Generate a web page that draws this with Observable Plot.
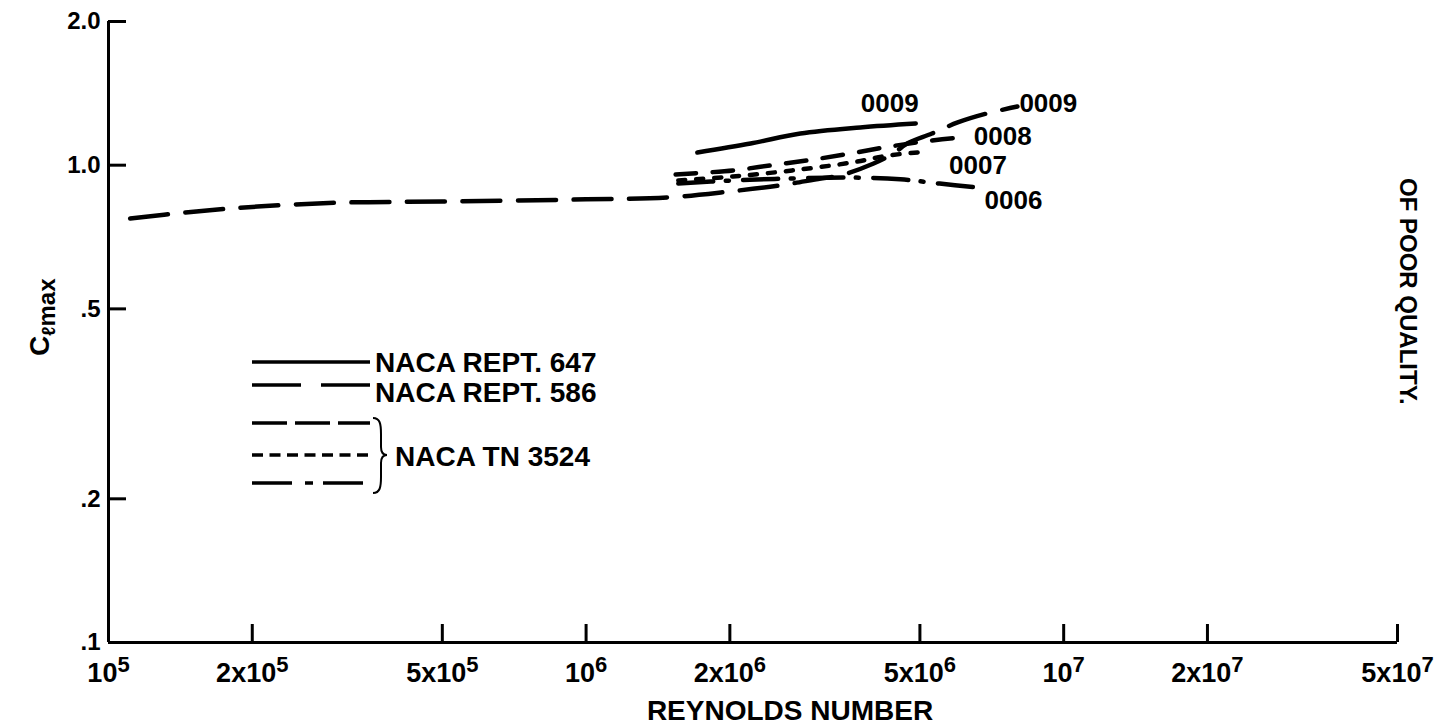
<!DOCTYPE html>
<html>
<head>
<meta charset="utf-8">
<script src="https://cdn.jsdelivr.net/npm/d3@7"></script>
<script src="https://cdn.jsdelivr.net/npm/@observablehq/plot@0.6"></script>
<style>
  html, body { margin: 0; padding: 0; background: #fff; }
  #chart svg text { font-family: "Liberation Sans", Arial, Helvetica, sans-serif; font-weight: bold; }
</style>
</head>
<body>
<div id="chart"></div>
<script>
// Axis ticks and their printed labels ("^" marks the exponent)
const xTicks = [1e5, 2e5, 5e5, 1e6, 2e6, 5e6, 1e7, 2e7, 5e7];
const xTickLabels = ["10^5", "2x10^5", "5x10^5", "10^6", "2x10^6", "5x10^6", "10^7", "2x10^7", "5x10^7"];
const yTicks = [0.1, 0.2, 0.5, 1, 2];
const yTickLabels = [".1", ".2", ".5", "1.0", "2.0"];

// NACA Rept. 647, NACA 0009
const rept647_0009_re = [1.71e6, 2.21e6, 2.81e6, 3.75e6, 4.9e6];
const rept647_0009_cl = [1.063, 1.11, 1.165, 1.20, 1.223];

// NACA Rept. 586, NACA 0009
const rept586_0009_re = [1.11e5, 1.45e5, 2.05e5, 3.1e5, 5.0e5, 1.0e6, 1.48e6, 2.0e6, 2.55e6, 3.1e6, 3.4e6, 4.0e6, 4.4e6, 4.7e6, 5.3e6, 6.0e6, 6.9e6, 8.0e6];
const rept586_0009_cl = [0.773, 0.796, 0.819, 0.835, 0.839, 0.848, 0.856, 0.881, 0.907, 0.938, 0.951, 1.008, 1.058, 1.11, 1.165, 1.229, 1.283, 1.327];

// NACA TN 3524, NACA 0008 / 0007 / 0006
const tn3524_0008_re = [1.54e6, 2.03e6, 2.43e6, 2.9e6, 3.48e6, 4.2e6, 5.1e6, 6.3e6];
const tn3524_0008_cl = [0.956, 0.975, 0.999, 1.023, 1.053, 1.089, 1.121, 1.148];
const tn3524_0007_re = [1.56e6, 2.03e6, 2.7e6, 3.6e6, 4.3e6, 5.2e6];
const tn3524_0007_cl = [0.929, 0.947, 0.975, 1.013, 1.048, 1.068];
const tn3524_0006_re = [1.56e6, 2.03e6, 2.7e6, 3.6e6, 4.55e6, 5.5e6, 6.6e6];
const tn3524_0006_cl = [0.915, 0.929, 0.938, 0.942, 0.934, 0.915, 0.898];

// Section names printed at the curve ends
const sectionNames = ["0009", "0009", "0008", "0007", "0006"];

// Line styles and where each end label sits relative to the last point
const series = [
  {re: rept647_0009_re, cl: rept647_0009_cl, dash: null, name: sectionNames[0], dx: -26, dy: -20, anchor: "middle"},
  {re: rept586_0009_re, cl: rept586_0009_cl, dash: "38,17.5", name: sectionNames[1], dx: 2, dy: -3, anchor: "start"},
  {re: tn3524_0008_re, cl: tn3524_0008_cl, dash: "20.5,16.5", name: sectionNames[2], dx: 6, dy: 0, anchor: "start"},
  {re: tn3524_0007_re, cl: tn3524_0007_cl, dash: "7,11", name: sectionNames[3], dx: 21, dy: 14, anchor: "start"},
  {re: tn3524_0006_re, cl: tn3524_0006_cl, dash: "35,12.5,3,14.5", name: sectionNames[4], dx: 7, dy: 13, anchor: "start"}
];

const lineMarks = [];
for (const s of series) {
  const rows = s.re.map((re, i) => ({re, cl: s.cl[i]}));
  lineMarks.push(Plot.line(rows, {
    x: "re", y: "cl", curve: "catmull-rom",
    stroke: "#000", strokeWidth: 4.5, strokeLinecap: "round",
    strokeDasharray: s.dash
  }));
  lineMarks.push(Plot.text([rows[rows.length - 1]], {
    x: "re", y: "cl", text: () => s.name,
    dx: s.dx, dy: s.dy, textAnchor: s.anchor,
    fontSize: 26, fontWeight: "bold", fill: "#000"
  }));
}

// Look a tick value up in a list, tolerant of rounding
const lookup = (ticks, labels) => d => {
  const i = ticks.findIndex(t => Math.abs(t - d) <= 1e-9 * t);
  return i < 0 ? "" : labels[i];
};

const chart = Plot.plot({
  width: 1442,
  height: 727,
  marginLeft: 108,
  marginRight: 45,
  marginTop: 21,
  marginBottom: 85,
  style: {background: "#fff", color: "#000", overflow: "visible"},
  x: {type: "log", domain: [1e5, 5e7], label: null},
  y: {type: "log", domain: [0.1, 2], label: null},
  marks: [
    Plot.axisX(xTicks, {
      tickSize: -18, tickPadding: 38, strokeWidth: 3,
      fontSize: 27, label: null,
      tickFormat: lookup(xTicks, xTickLabels)
    }),
    Plot.axisY(yTicks, {
      tickSize: -18, tickPadding: 26, strokeWidth: 3,
      fontSize: 24, label: null,
      tickFormat: lookup(yTicks, yTickLabels)
    }),
    Plot.ruleX([1e5], {stroke: "#000", strokeWidth: 3}),
    Plot.ruleY([0.1], {stroke: "#000", strokeWidth: 3}),
    ...lineMarks
  ]
});

document.getElementById("chart").appendChild(chart);

const svg = d3.select(chart);

// Powers of ten as superscripts
svg.selectAll('g[aria-label="x-axis tick label"] text').each(function () {
  const t = d3.select(this);
  const [base, exp] = t.text().split("^");
  t.text(null);
  t.append("tspan").text(base);
  if (exp) t.append("tspan").attr("font-size", 22).attr("dy", -10).text(exp);
});

// Axis titles
svg.append("text")
  .attr("x", 790).attr("y", 720)
  .attr("text-anchor", "middle")
  .attr("font-size", 28)
  .text("REYNOLDS NUMBER");

const yTitle = svg.append("text")
  .attr("transform", "translate(49,356) rotate(-90)")
  .attr("text-anchor", "start")
  .attr("font-size", 28);
yTitle.append("tspan").text("C");
yTitle.append("tspan").attr("font-size", 19).attr("dy", 6).text("ℓ");
yTitle.append("tspan").attr("font-size", 24).attr("dy", 0).text("max");

// Legend
const legend = svg.append("g").attr("stroke", "#000").attr("fill", "none").attr("stroke-width", 3.5);
const legendRows = [
  {y: 362, dash: null},
  {y: 385, dash: "49,20"},
  {y: 423, dash: "35,8"},
  {y: 455, dash: "11,6.5"},
  {y: 483, dash: "40,13,8,10"}
];
for (const r of legendRows) {
  legend.append("line")
    .attr("x1", 252).attr("x2", 370)
    .attr("y1", r.y).attr("y2", r.y)
    .attr("stroke-dasharray", r.dash);
}
legend.append("path")
  .attr("stroke-width", 2)
  .attr("d", "M373,418 C380,418 381,424 381,434 L381,447 C381,452 383,455 387,455 C383,455 381,458 381,463 L381,477 C381,487 380,493 373,493");

const legendText = svg.append("g").attr("font-size", 28).attr("fill", "#000").attr("text-anchor", "start");
legendText.append("text").attr("x", 375).attr("y", 372).text("NACA REPT. 647");
legendText.append("text").attr("x", 375).attr("y", 402).text("NACA REPT. 586");
legendText.append("text").attr("x", 395).attr("y", 466).text("NACA TN 3524");

// Page stamp along the right edge
svg.append("text")
  .attr("transform", "translate(1400,178) rotate(90)")
  .attr("text-anchor", "start")
  .attr("font-size", 24)
  .attr("fill", "#000")
  .text("OF POOR QUALITY.");
</script>
</body>
</html>
